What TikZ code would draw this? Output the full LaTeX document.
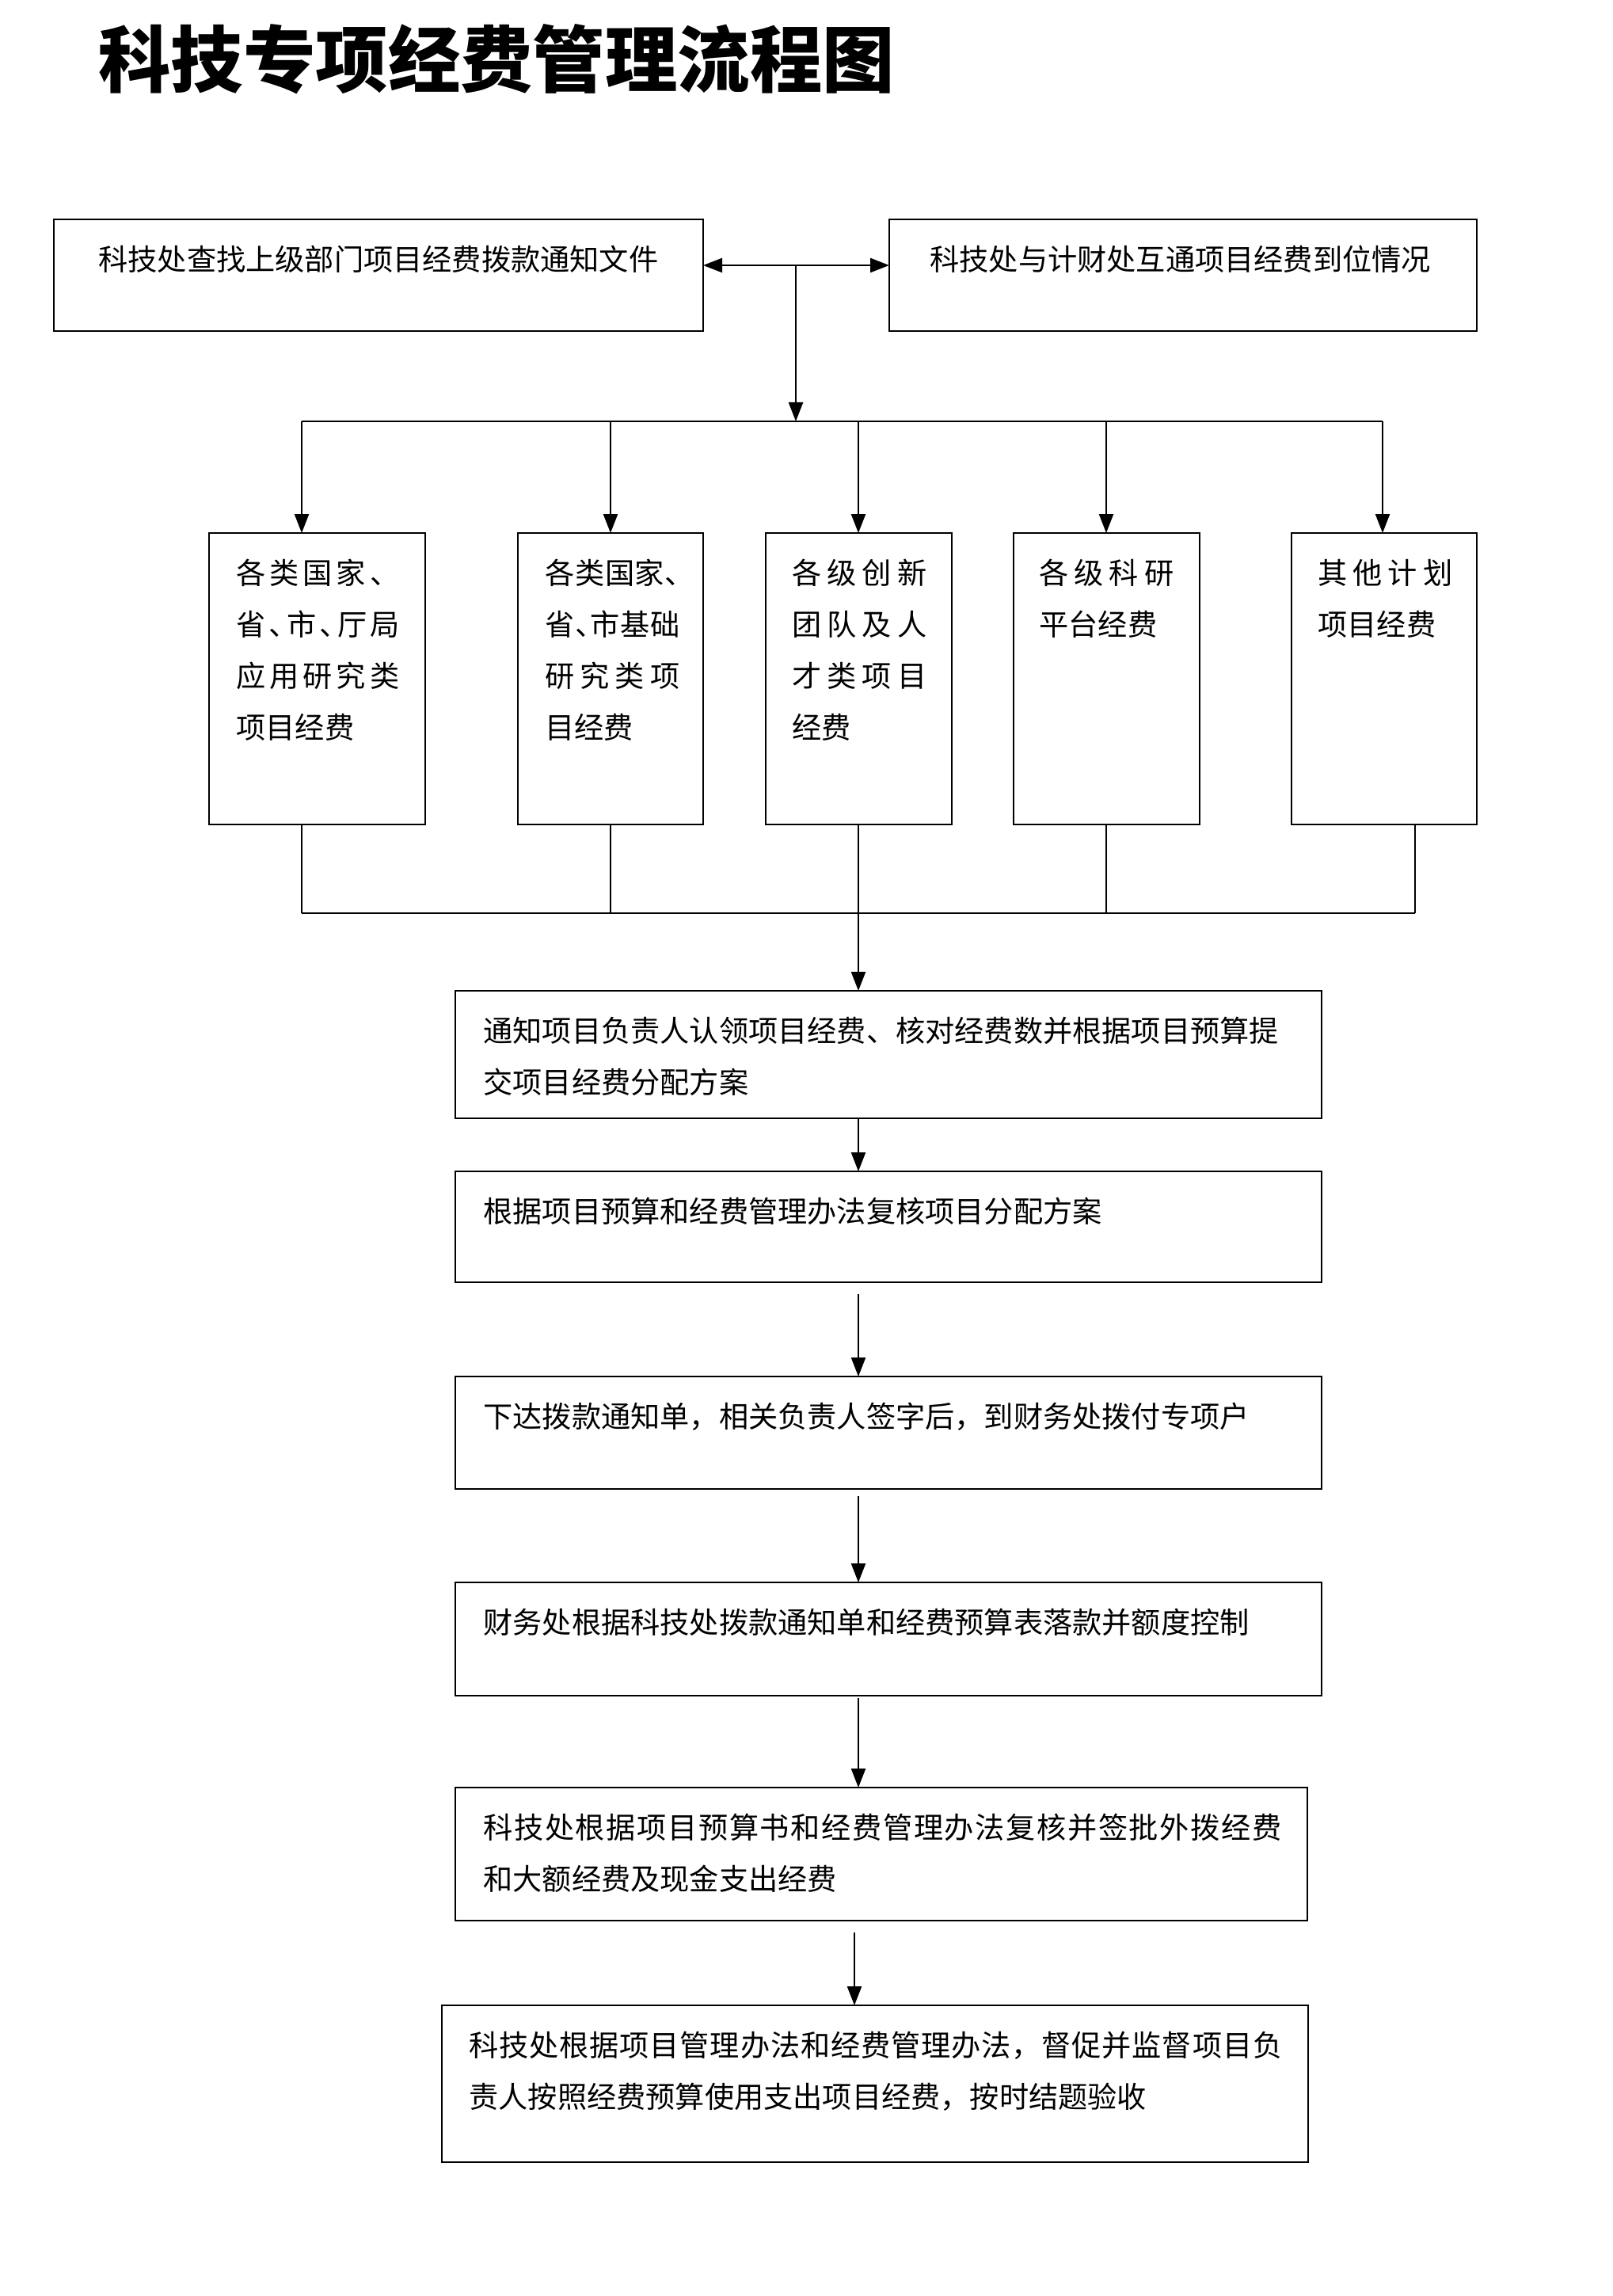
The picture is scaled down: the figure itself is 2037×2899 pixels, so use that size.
\documentclass[tikz,border=0pt]{standalone}
\usepackage{fontspec}
\newfontfamily\cjk{Noto Sans CJK SC}
\usetikzlibrary{arrows.meta,calc}
\def\sprloop#1{\ifx#1\relax\else#1\hfil\expandafter\sprloop\fi}
\newcommand\jline[2]{\hbox to #1{\sprloop#2\relax\unskip}}
\newcommand\hw{\makebox[0.5em][l]{、}}
\begin{document}
\begin{tikzpicture}[x=0.5pt,y=-0.5pt,
  box/.style={draw=black, line width=1.4pt, rectangle, inner sep=0pt, outer sep=0pt, anchor=north west},
  txt/.style={anchor=north west, inner sep=0pt, align=left, font=\cjk\fontsize{18.6}{32.5}\selectfont},
  conn/.style={line width=1.2pt},
  tip/.tip={Triangle[length=12pt,width=9pt]},
  arr/.style={conn, -tip},
]
\path[fill=white, use as bounding box] (0,0) rectangle (2037,2899);

% title
\node[anchor=west, inner sep=0pt, font=\cjk\bfseries\fontsize{45.7}{50}\selectfont] (title) at (124,75) {科技专项经费管理流程图};

% top boxes
\node[box, minimum width=410pt, minimum height=70.5pt] (A) at (68,277) {};
\node[box, minimum width=371pt, minimum height=70.5pt] (B) at (1123,277) {};
\node[txt] (tA) at (124,310) {科技处查找上级部门项目经费拨款通知文件};
\node[txt] (tB) at (1174,310) {科技处与计财处互通项目经费到位情况};

% five category boxes
\node[box, minimum width=136.5pt, minimum height=184pt] (b1) at (264,673) {};
\node[box, minimum width=117pt, minimum height=184pt] (b2) at (654,673) {};
\node[box, minimum width=117.5pt, minimum height=184pt] (b3) at (967,673) {};
\node[box, minimum width=117.5pt, minimum height=184pt] (b4) at (1280,673) {};
\node[box, minimum width=117pt, minimum height=184pt] (b5) at (1631,673) {};

\node[txt] (t1) at (298,706) {\jline{103pt}{各类国家、}\\\jline{103pt}{省{\hw}市{\hw}厅局}\\\jline{103pt}{应用研究类}\\项目经费};
\node[txt] (t2) at (688,706) {\jline{85pt}{各类国家{\hw}}\\\jline{85pt}{省{\hw}市基础}\\\jline{85pt}{研究类项}\\目经费};
\node[txt] (t3) at (1000,706) {\jline{85pt}{各级创新}\\\jline{85pt}{团队及人}\\\jline{85pt}{才类项目}\\经费};
\node[txt] (t4) at (1312,706) {\jline{85pt}{各级科研}\\平台经费};
\node[txt] (t5) at (1664,706) {\jline{85pt}{其他计划}\\项目经费};

% process boxes
\node[box, minimum width=547pt, minimum height=80.5pt] (c1) at (575,1251) {};
\node[box, minimum width=547pt, minimum height=70pt] (c2) at (575,1479) {};
\node[box, minimum width=547pt, minimum height=71pt] (c3) at (575,1738) {};
\node[box, minimum width=547pt, minimum height=71.5pt] (c4) at (575,1998) {};
\node[box, minimum width=538pt, minimum height=84pt] (c5) at (575,2257) {};
\node[box, minimum width=547pt, minimum height=99pt] (c6) at (558,2532) {};

\node[txt] (s1) at (610,1284) {通知项目负责人认领项目经费、核对经费数并根据项目预算提\\交项目经费分配方案};
\node[txt] (s2) at (610,1512) {根据项目预算和经费管理办法复核项目分配方案};
\node[txt] (s3) at (610,1771) {下达拨款通知单，相关负责人签字后，到财务处拨付专项户};
\node[txt] (s4) at (610,2031) {财务处根据科技处拨款通知单和经费预算表落款并额度控制};
\node[txt] (s5) at (610,2290) {\jline{504pt}{科技处根据项目预算书和经费管理办法复核并签批外拨经费}\\和大额经费及现金支出经费};
\node[txt] (s6) at (592,2565) {\jline{513.5pt}{科技处根据项目管理办法和经费管理办法，督促并监督项目负}\\责人按照经费预算使用支出项目经费，按时结题验收};

% connectors: top
\coordinate (j0) at (1005,335);
\coordinate (j1) at (1005,532);
\draw[conn, tip-tip] (A.east |- j0) -- (B.west |- j0);
\draw[arr] (j0) -- (j1);

\coordinate (d1) at (381,532);
\coordinate (d2) at (771,532);
\coordinate (d3) at (1084,532);
\coordinate (d4) at (1397,532);
\coordinate (d5) at (1746,532);
\draw[conn] (d1) -- (d5);
\foreach \i in {1,...,5}{\draw[arr] (d\i) -- (b\i.north -| d\i);}

% connectors: merge
\coordinate (e1) at (381,1153);
\coordinate (e2) at (771,1153);
\coordinate (e3) at (1084,1153);
\coordinate (e4) at (1397,1153);
\coordinate (e5) at (1787,1153);
\foreach \i in {1,...,5}{\draw[conn] (b\i.south -| e\i) -- (e\i);}
\draw[conn] (e1) -- (e5);
\draw[arr] (e3) -- (c1.north -| e3);

% connectors: process chain
\coordinate (f) at (1079,2440);
\draw[arr] (c1.south -| e3) -- (c2.north -| e3);
\draw[arr] ($(c2.south -| e3)+(0,15)$) -- (c3.north -| e3);
\draw[arr] ($(c3.south -| e3)+(0,9)$) -- (c4.north -| e3);
\draw[arr] ($(c4.south -| e3)+(0,3)$) -- (c5.north -| e3);
\draw[arr] (f) -- (c6.north -| f);
\end{tikzpicture}
\end{document}
